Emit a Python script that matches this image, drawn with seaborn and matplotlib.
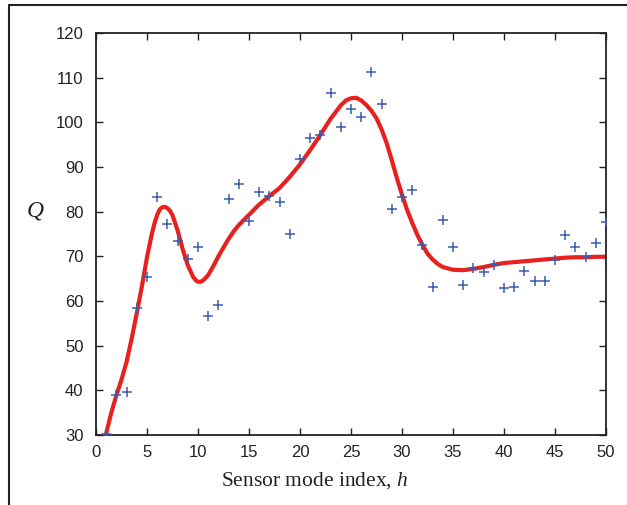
import matplotlib
matplotlib.use("Agg")
import matplotlib.pyplot as plt
import seaborn as sns
import pandas as pd
from matplotlib.lines import Line2D

# Measured points
h_pts = list(range(1, 51))
q_pts = [30.2, 38.9, 39.7, 58.4, 65.4, 83.2, 77.2, 73.4, 69.4, 72.0,
         56.7, 59.1, 82.8, 86.2, 77.9, 84.3, 83.4, 82.1, 74.9, 91.7,
         96.4, 97.1, 106.5, 98.9, 103.0, 101.2, 111.2, 104.1, 80.6, 83.2,
         84.9, 72.6, 63.2, 78.1, 72.1, 63.5, 67.4, 66.5, 68.0, 62.9,
         63.1, 66.8, 64.5, 64.5, 69.2, 74.8, 72.2, 69.8, 73.0, 77.7]

# Fitted curve
h_fit = [1, 1.5, 2, 2.5, 3, 3.5, 4, 4.5, 5, 5.5, 5.75, 6, 6.25, 6.5, 6.75, 7,
         7.25, 7.5, 8, 8.5, 9, 9.5, 9.75, 10, 10.25, 10.5, 11, 11.5, 12, 12.5,
         13, 13.5, 14, 15, 16, 17, 18, 19, 20, 21, 22, 23, 24, 24.5, 25, 25.5,
         26, 26.5, 27, 27.5, 28, 28.5, 29, 29.5, 30, 30.5, 31, 31.5, 32, 32.5,
         33, 33.5, 34, 35, 36, 37, 38, 39, 40, 41, 42, 43, 44, 45, 46, 47, 48,
         49, 50]
q_fit = [30.4, 35.0, 38.9, 42.4, 46.4, 51.6, 57.3, 63.3, 69.8, 75.3, 77.5, 79.3,
         80.5, 81.0, 81.1, 80.8, 80.2, 79.2, 75.8, 71.6, 68.0, 65.5, 64.7, 64.3,
         64.3, 64.6, 65.8, 67.8, 70.0, 72.0, 73.9, 75.6, 77.0, 79.3, 81.6, 83.5,
         85.3, 87.8, 90.6, 93.8, 97.2, 100.8, 103.8, 104.9, 105.4, 105.5, 104.9,
         103.9, 102.6, 100.9, 98.4, 95.3, 91.5, 87.5, 83.8, 80.4, 77.5, 74.8,
         72.6, 70.6, 69.3, 68.3, 67.6, 67.0, 66.9, 67.2, 67.6, 68.1, 68.5, 68.7,
         68.9, 69.1, 69.3, 69.5, 69.7, 69.8, 69.8, 69.9, 69.9]

x_ticks = list(range(0, 51, 5))
y_ticks = list(range(30, 121, 10))

sns.set_theme(style="ticks")
plt.rcParams['font.family'] = ['Liberation Sans', 'DejaVu Sans']
plt.rcParams['mathtext.fontset'] = 'custom'
plt.rcParams['mathtext.rm'] = 'Liberation Serif'
plt.rcParams['mathtext.it'] = 'Liberation Serif:italic'

fig = plt.figure(figsize=(6.27, 5.05), dpi=100)
ax = fig.add_axes([96/627, 1-435/505, (606-96)/627, (435-33)/505])

df_pts = pd.DataFrame({"h": h_pts, "Q": q_pts})
df_fit = pd.DataFrame({"h": h_fit, "Q": q_fit})

sns.lineplot(data=df_fit, x="h", y="Q", ax=ax, color="#e8201e", linewidth=3.0,
             zorder=2, solid_joinstyle="round", solid_capstyle="round")
sns.scatterplot(data=df_pts, x="h", y="Q", ax=ax, marker="+", color="#3a5cb0",
                s=55, linewidth=1.1, zorder=3)

ax.set_xlim(0, 50)
ax.set_ylim(30, 120)
ax.set_xticks(x_ticks)
ax.set_yticks(y_ticks)
ax.tick_params(direction="in", length=5, width=1, colors="#222222",
               labelsize=12, top=True, right=True, pad=7)
ax.tick_params(axis="y", pad=9)
for sp in ax.spines.values():
    sp.set_visible(True)
    sp.set_color("#222222")
    sp.set_linewidth(1.3)

ax.set_xlabel("Sensor mode index, $h$", fontfamily="Liberation Serif",
              fontsize=15.5, color="#222222", va="center")
ax.xaxis.set_label_coords((315-96)/510, (435-481)/402)
ax.set_ylabel("$Q$", fontsize=17, rotation=0, color="#222222",
              va="center", ha="center")
ax.yaxis.set_label_coords((35-96)/510, (435-211)/402)

fig.add_artist(Line2D([9/627, 1.0], [1-5/505, 1-5/505], color="#222222",
                      linewidth=1.5, transform=fig.transFigure))
fig.add_artist(Line2D([9/627, 9/627], [0, 1-5/505], color="#222222",
                      linewidth=1.5, transform=fig.transFigure))

fig.savefig("out.png", dpi=100)
